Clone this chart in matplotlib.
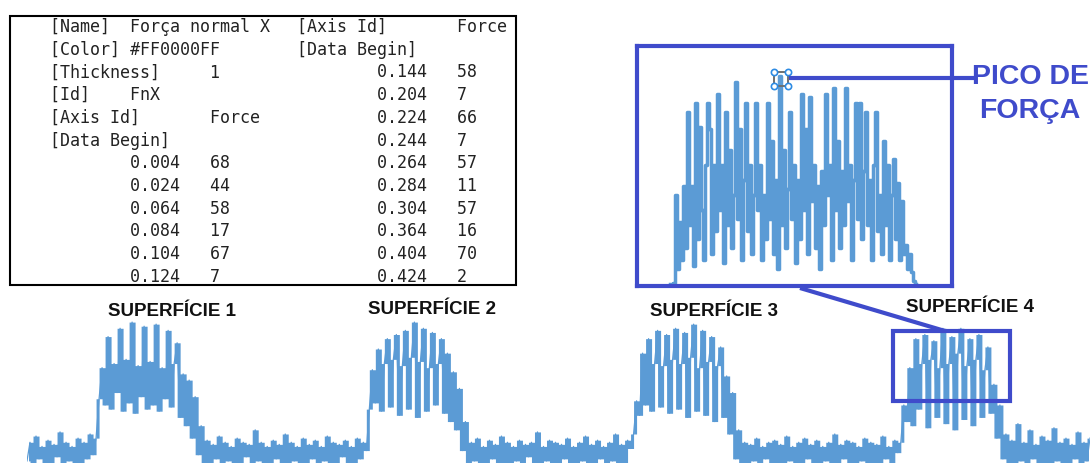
import numpy as np
import matplotlib
matplotlib.use("Agg")
import matplotlib.pyplot as plt
from matplotlib.patches import Rectangle
from matplotlib.transforms import offset_copy

# ---- exported file header (text box) ----
header_left = ["[Name]  Força normal X", "[Color] #FF0000FF", "[Thickness]     1",
               "[Id]    FnX", "[Axis Id]       Force", "[Data Begin]"]
header_right = ["[Axis Id]       Force", "[Data Begin]"]
time_left = [0.004, 0.024, 0.064, 0.084, 0.104, 0.124]
force_left = [68, 44, 58, 17, 67, 7]
time_right = [0.144, 0.204, 0.224, 0.244, 0.264, 0.284, 0.304, 0.364, 0.404, 0.424]
force_right = [58, 7, 66, 7, 57, 11, 57, 16, 70, 2]

# ---- normal force trace, four surfaces separated by rest phases ----
base0 = [3, 12, 1, 15, 4, 10, 0, 13, 2, 11, 5, 17, 1, 12, 3, 10, 0, 14, 2, 12, 4, 16, 6]
surf1 = [14, 33, 48, 30, 63, 28, 50, 36, 67, 27, 52, 31, 70, 26, 49, 34, 68, 28, 51, 30,
         69, 27, 48, 33, 66, 29, 50, 60, 24, 45, 20, 42, 14, 34, 6, 20]
base1 = [2, 13, 0, 11, 4, 15, 1, 12, 3, 10, 0, 14, 2, 12, 5, 11, 1, 18, 3, 12,
         0, 10, 2, 13, 4, 11, 1, 16, 0, 12, 3, 10, 2, 14, 0, 11, 4, 13, 1, 10,
         3, 15, 0, 12, 2, 11, 5, 13, 1, 10, 2, 14, 4, 12, 8]
surf2 = [28, 47, 31, 57, 27, 50, 62, 29, 52, 64, 25, 49, 66, 28, 53, 70, 24, 51, 67, 27,
         48, 65, 30, 50, 62, 26, 55, 22, 46, 18, 38, 8, 22]
base2 = [1, 12, 3, 14, 0, 10, 2, 13, 4, 11, 0, 15, 2, 12, 1, 10, 3, 13, 0, 11,
         5, 12, 2, 17, 1, 10, 3, 13, 0, 12, 2, 11, 4, 14, 1, 10, 0, 12, 3, 15,
         2, 11, 1, 13, 4, 10, 0, 12, 3, 16, 1, 11, 2, 13, 9]
surf3 = [16, 32, 25, 55, 30, 62, 27, 50, 66, 29, 49, 64, 26, 52, 67, 28, 50, 65, 24, 53,
         69, 27, 48, 66, 25, 51, 63, 22, 49, 58, 24, 44, 16, 36, 4, 18]
base3 = [2, 12, 0, 11, 3, 14, 1, 10, 4, 12, 0, 13, 2, 11, 1, 15, 3, 10, 0, 12,
         2, 14, 4, 11, 1, 13, 0, 10, 3, 12, 2, 16, 1, 11, 4, 13, 0, 12, 2, 10,
         3, 14, 1, 12, 0, 11, 2, 15, 4, 10, 1, 13, 7]
surf4 = [12, 30, 22, 48, 20, 62, 28, 50, 64, 19, 52, 61, 24, 48, 67, 21, 50, 63, 18, 55,
         67, 23, 49, 62, 20, 52, 64, 24, 47, 58, 26, 40, 14, 30, 4]
base4 = [16, 2, 13, 0, 21, 3, 12, 1, 18, 4, 11, 0, 15, 2, 13, 1, 19, 3, 12, 0,
         14, 2, 11, 4, 17, 1, 12, 3, 14]

# ---- zoom on surface 4 ----
zoom_force = [0, 0, 0.5, 30, 5, 21, 8, 33, 12, 58, 20, 33, 6, 61, 15, 53, 25, 8, 40, 61,
              52, 10, 40, 18, 64, 25, 40, 7, 58, 20, 45, 12, 30, 68, 22, 52, 8, 35, 61, 18,
              40, 10, 30, 61, 25, 40, 8, 30, 15, 61, 22, 48, 10, 35, 5, 70, 20, 45, 12, 32,
              58, 22, 40, 7, 35, 15, 64, 25, 52, 10, 63, 28, 40, 12, 33, 5, 38, 20, 64, 30,
              40, 8, 66, 25, 48, 12, 38, 20, 66, 28, 40, 8, 35, 61, 22, 61, 15, 38, 58, 20,
              35, 8, 40, 58, 18, 30, 10, 48, 20, 40, 8, 30, 42, 15, 34, 8, 28, 10, 13, 5,
              10, 4, 1, 0]

labels = ["SUPERFÍCIE 1", "SUPERFÍCIE 2", "SUPERFÍCIE 3", "SUPERFÍCIE 4"]

blue = "#5B9BD5"
frame = "#3F4BCB"
W, H = 1090, 463
fig = plt.figure(figsize=(W / 100, H / 100), dpi=100)


def px_axes(x0, y0, x1, y1):
    return fig.add_axes([x0 / W, 1 - y1 / H, (x1 - x0) / W, (y1 - y0) / H])


# main trace: the signal is much denser than the pixels, so shade the range
# swept between consecutive samples and keep the raw line on top
trace = np.array(base0 + surf1 + base1 + surf2 + base2 + surf3 + base3 + surf4 + base4, float)
t = np.arange(len(trace))
lo = np.minimum(trace[:-1], trace[1:])
hi = np.maximum(trace[:-1], trace[1:])
ax = px_axes(27, 320, 1090, 463)
ax.fill_between(t[:-1] + 0.5, lo, hi, step="mid", color=blue, lw=0)
ax.plot(t, trace, color=blue, lw=0.9)
ax.set_xlim(0, len(trace) - 1)
ax.set_ylim(2, 71)
ax.axis("off")

# zoomed window
zf = np.array(zoom_force, float)
axz = px_axes(637, 46, 952, 286)
axz.plot(np.arange(len(zf)), zf, color=blue, lw=2.5, drawstyle="steps-mid")
axz.set_xlim(-16.5, 141)
axz.set_ylim(-0.67, 80.1)
axz.set_xticks([])
axz.set_yticks([])
for s in axz.spines.values():
    s.set_color(frame)
    s.set_linewidth(3)

# peak marker with selection handles
ip = int(np.argmax(zf))
pk = offset_copy(axz.transData, fig=fig, x=1, y=-3, units="dots")
axz.plot(ip, zf[ip], marker="s", ms=10, mfc="none", mec="#707070", mew=1.4,
         transform=pk, zorder=4)
for dx in (-7, 7):
    for dy in (-7, 7):
        tr = offset_copy(axz.transData, fig=fig, x=dx + 1, y=dy - 3, units="dots")
        axz.plot(ip, zf[ip], marker="o", ms=4.5, mfc="white", mec="#2D8BE3",
                 mew=1.2, transform=tr, clip_on=False, zorder=5)

# overlay in pixel coordinates for annotations
ov = fig.add_axes([0, 0, 1, 1])
ov.set_xlim(0, W)
ov.set_ylim(H, 0)
ov.axis("off")
ov.patch.set_alpha(0)

# text box
ov.add_patch(Rectangle((10, 16), 506, 269, fill=False, ec="black", lw=1.5))
mono = dict(family="DejaVu Sans Mono", fontsize=12, color="#222222", va="center")
rows_left = header_left + [f"{'':8}{t:.3f}{'':3}{f}" for t, f in zip(time_left, force_left)]
rows_right = header_right + [f"{'':8}{t:.3f}{'':3}{f}" for t, f in zip(time_right, force_right)]
for k, s in enumerate(rows_left):
    ov.text(50, 27 + 22.7 * k, s, **mono)
for k, s in enumerate(rows_right):
    ov.text(297, 27 + 22.7 * k, s, **mono)

# surface labels
for s, (x, y) in zip(labels, [(172, 311), (432, 309), (714, 312), (970, 308)]):
    ov.text(x, y, s, family="Liberation Sans", fontsize=13.5, fontweight="bold",
            ha="center", va="center", color="#111111")

# highlight on surface 4 and link to zoom window
ov.add_patch(Rectangle((893, 331), 117, 70, fill=False, ec=frame, lw=3, zorder=5))
ov.plot([800, 945], [288, 331], color=frame, lw=3, solid_capstyle="butt")

# peak callout
ov.plot([789, 975], [78, 78], color=frame, lw=3, solid_capstyle="butt")
ov.text(1030, 94, "PICO DE\nFORÇA", family="Liberation Sans", fontsize=20.5,
        fontweight="bold", ha="center", va="center", color=frame, linespacing=1.35)

fig.savefig("out.png", dpi=100)
